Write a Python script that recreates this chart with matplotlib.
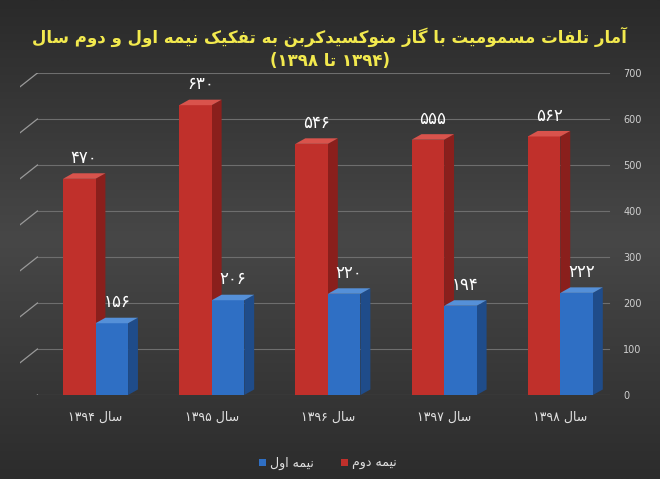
import numpy as np
import matplotlib
matplotlib.use("Agg")
import matplotlib.pyplot as plt
from matplotlib.patches import Polygon, Rectangle
from matplotlib.colors import LinearSegmentedColormap

years = ["سال ۱۳۹۴", "سال ۱۳۹۵", "سال ۱۳۹۶", "سال ۱۳۹۷", "سال ۱۳۹۸"]
second_half = [470, 630, 546, 555, 562]   # نیمه دوم (red)
first_half = [156, 206, 220, 194, 222]    # نیمه اول (blue)
yticks = [0, 100, 200, 300, 400, 500, 600, 700]
title1 = "آمار تلفات مسمومیت با گاز منوکسیدکربن به تفکیک نیمه اول و دوم سال"
title2 = "(۱۳۹۴ تا ۱۳۹۸)"
leg_red = "نیمه دوم"
leg_blue = "نیمه اول"

FORMS = {
    'ا': (0xFE8D, 0xFE8E, None, None), 'آ': (0xFE81, 0xFE82, None, None),
    'ب': (0xFE8F, 0xFE90, 0xFE91, 0xFE92), 'ت': (0xFE95, 0xFE96, 0xFE97, 0xFE98),
    'د': (0xFEA9, 0xFEAA, None, None), 'ر': (0xFEAD, 0xFEAE, None, None),
    'ز': (0xFEAF, 0xFEB0, None, None), 'س': (0xFEB1, 0xFEB2, 0xFEB3, 0xFEB4),
    'ف': (0xFED1, 0xFED2, 0xFED3, 0xFED4), 'ل': (0xFEDD, 0xFEDE, 0xFEDF, 0xFEE0),
    'م': (0xFEE1, 0xFEE2, 0xFEE3, 0xFEE4), 'ن': (0xFEE5, 0xFEE6, 0xFEE7, 0xFEE8),
    'ه': (0xFEE9, 0xFEEA, 0xFEEB, 0xFEEC), 'و': (0xFEED, 0xFEEE, None, None),
    'ی': (0xFBFC, 0xFBFD, 0xFBFE, 0xFBFF), 'ک': (0xFB8E, 0xFB8F, 0xFB90, 0xFB91),
    'گ': (0xFB92, 0xFB93, 0xFB94, 0xFB95),
}

def dual(c):
    return c in FORMS and FORMS[c][2] is not None

def shape_word(w):
    if not any(c in FORMS for c in w):
        return w
    out = []
    i = 0
    n = len(w)
    while i < n:
        c = w[i]
        if c not in FORMS:
            out.append(c); i += 1; continue
        prev_j = i > 0 and dual(w[i - 1])
        if c == 'ل' and i + 1 < n and w[i + 1] in ('ا', 'آ'):
            if w[i + 1] == 'ا':
                out.append(chr(0xFEFC if prev_j else 0xFEFB))
            else:
                out.append(chr(0xFEF6 if prev_j else 0xFEF5))
            i += 2
            continue
        next_j = dual(c) and i + 1 < n and w[i + 1] in FORMS
        iso, fin, ini, med = FORMS[c]
        if prev_j and next_j:
            g = med
        elif prev_j:
            g = fin
        elif next_j:
            g = ini
        else:
            g = iso
        out.append(chr(g))
        i += 1
    return ''.join(reversed(out))

def rtl(text):
    words = text.split(' ')
    return ' '.join(shape_word(w) for w in reversed(words))

def rtl_paren(text):
    inner = text.strip('()')
    return '(' + rtl(inner) + ')'

FONT = ['DejaVu Sans', 'Noto Sans']

fig = plt.figure(figsize=(6.6, 4.79), dpi=100)
bg = fig.add_axes([0, 0, 1, 1])
grad = np.linspace(0, 1, 256).reshape(-1, 1)
cm = LinearSegmentedColormap.from_list('bg', ['#2a2a2a', '#474747', '#2c2c2c'])
bg.imshow(grad, aspect='auto', cmap=cm, extent=[0, 1, 0, 1])
bg.axis('off')

ax = fig.add_axes([20 / 660, 84 / 479, 595 / 660, 322 / 479])
ax.set_facecolor('none')
ax.set_xlim(-0.65, 4.47)
ax.set_ylim(0, 700)
for s in ax.spines.values():
    s.set_visible(False)
ax.set_xticks([])
ax.yaxis.tick_right()
ax.set_yticks(yticks)
ax.set_yticklabels([str(v) for v in yticks], fontsize=7, color='#cfcfcf')
ax.tick_params(axis='y', length=0, pad=6)

for v in yticks:
    ax.plot([-0.5, 4.42], [v, v], color='#6e6e6e', lw=0.8, zorder=1)
    ax.plot([-0.65, -0.5], [v - 30, v], color='#9a9a9a', lw=0.9, zorder=1)

w = 0.28
dx, dy = 0.085, 12
x = np.arange(len(years))

def bar3d(xc, h, front, side, top):
    x0, x1 = xc - w / 2, xc + w / 2
    ax.add_patch(Rectangle((x0, 0), w, h, facecolor=front, edgecolor='none', zorder=3))
    ax.add_patch(Polygon([(x1, 0), (x1 + dx, dy), (x1 + dx, h + dy), (x1, h)],
                         closed=True, facecolor=side, edgecolor='none', zorder=2))
    ax.add_patch(Polygon([(x0, h), (x1, h), (x1 + dx, h + dy), (x0 + dx, h + dy)],
                         closed=True, facecolor=top, edgecolor='none', zorder=3))

def fa_digits(n):
    return ''.join(chr(0x06F0 + int(d)) for d in str(n))

for i in range(len(years)):
    bar3d(x[i] - w / 2, second_half[i], '#c0302b', '#8a1f1c', '#d9534c')
    bar3d(x[i] + w / 2, first_half[i], '#2f6fc4', '#1f4c8a', '#5590d8')
    ax.text(x[i] - w / 2 + dx / 2, second_half[i] + dy + 14, fa_digits(second_half[i]),
            ha='center', va='bottom', color='white', fontsize=12, family=FONT)
    ax.text(x[i] + w / 2 + dx / 2, first_half[i] + dy + 14, fa_digits(first_half[i]),
            ha='center', va='bottom', color='white', fontsize=12, family=FONT)
    ax.text(x[i], -35, rtl(years[i]), ha='center', va='top', color='#e0e0e0',
            fontsize=9, family=FONT)

fig.text(0.5, 0.922, rtl(title1), ha='center', va='center', color='#f2e94e',
         fontsize=12, fontweight='bold', family=FONT)
fig.text(0.5, 0.872, rtl_paren(title2), ha='center', va='center', color='#f2e94e',
         fontsize=12, fontweight='bold', family=FONT)

fig.patches.append(Rectangle((341 / 660, 1 - 466 / 479), 7 / 660, 7 / 479,
                             transform=fig.transFigure, facecolor='#c0302b', edgecolor='none'))
fig.text(352 / 660, 1 - 463 / 479, rtl(leg_red), ha='left', va='center', color='#e0e0e0',
         fontsize=9, family=FONT)
fig.patches.append(Rectangle((259 / 660, 1 - 466 / 479), 7 / 660, 7 / 479,
                             transform=fig.transFigure, facecolor='#2f6fc4', edgecolor='none'))
fig.text(270 / 660, 1 - 463 / 479, rtl(leg_blue), ha='left', va='center', color='#e0e0e0',
         fontsize=9, family=FONT)

fig.savefig('out.png', dpi=100)
